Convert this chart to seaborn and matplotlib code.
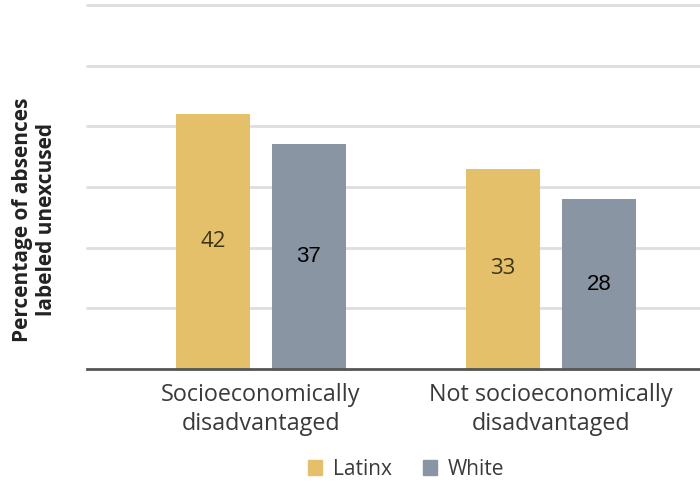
import matplotlib
matplotlib.use("Agg")
import matplotlib.pyplot as plt
from matplotlib.patches import Patch
import seaborn as sns
import pandas as pd

# data
groups = ["Socioeconomically\ndisadvantaged", "Not socioeconomically\ndisadvantaged"]
latinx = [42, 33]
white = [37, 28]
hues = ["Latinx", "White"]

df = pd.DataFrame({
    "group": groups * 2,
    "race": ["Latinx"] * 2 + ["White"] * 2,
    "pct": latinx + white,
})

sns.set_theme(style="white")
plt.rcParams["font.family"] = ["Open Sans", "DejaVu Sans"]

palette = {"Latinx": "#E5C06A", "White": "#8A95A3"}

fig = plt.figure(figsize=(7, 4.83), dpi=100)
ax = fig.add_axes([0.124, 0.236, 0.876, 0.754])

sns.barplot(data=df, x="group", y="pct", hue="race", hue_order=hues,
            palette=palette, width=0.662, gap=0.23, saturation=1,
            linewidth=0, legend=False, ax=ax, zorder=3)

ax.set_ylim(0, 60)
ax.set_xlim(-0.6, 1.514)
ax.set_yticks(range(10, 61, 10))
ax.yaxis.grid(True, color="#dedede", linewidth=2, zorder=0)
for gl in ax.get_ygridlines():
    gl.set_clip_on(False)
ax.tick_params(axis="y", left=False, labelleft=False)
ax.tick_params(axis="x", bottom=False, labelsize=16.8, labelcolor="#3a3a3a", pad=4)
for lab in ax.get_xticklabels():
    lab.set_linespacing(1.3)
for s in ["top", "right", "left"]:
    ax.spines[s].set_visible(False)
ax.spines["bottom"].set_color("#555555")
ax.spines["bottom"].set_linewidth(2)
ax.spines["bottom"].set_zorder(4)
ax.set_xlabel("")
ax.set_ylabel("Percentage of absences\nlabeled unexcused", fontsize=15,
              fontweight="bold", color="#222222", linespacing=1.2)
ax.yaxis.set_label_coords(-0.048, 0.41)

# value labels, centred in each bar
for cont, col, fam, fs in zip(ax.containers, ["#3e3518", "black"],
                              [["Open Sans"], ["Liberation Sans"]], [16, 16]):
    labels = [f"{v:g}" for v in cont.datavalues]
    ax.bar_label(cont, labels=labels, label_type="center", fontsize=fs,
                 color=col, family=fam)

# legend
handles = [Patch(color=palette[h]) for h in hues]
fig.legend(handles, hues, loc="center", bbox_to_anchor=(0.58, 0.028),
           ncol=2, frameon=False, fontsize=15, handlelength=0.7,
           handleheight=0.7, handletextpad=0.5, columnspacing=1.5,
           labelcolor="#3a3a3a")

fig.savefig("out.png", dpi=100)
